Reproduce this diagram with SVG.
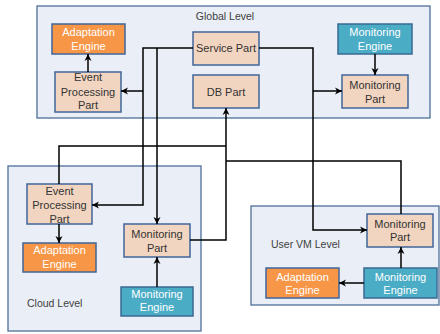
<svg xmlns="http://www.w3.org/2000/svg" width="440" height="334" viewBox="0 0 440 334">
<defs>
<marker id="arr" markerUnits="userSpaceOnUse" markerWidth="8" markerHeight="8" refX="7" refY="4" orient="auto">
<path d="M0,0.5 L7,4 L0,7.5 L2,4 z" fill="#000"/>
</marker>
<style>
.lvl{fill:#EAEFF7;stroke:#4F6F99;stroke-width:1.3}
.part{fill:#F2D5C0;stroke:#40659A;stroke-width:1.5}
.ae{fill:#F79646;stroke:#40659A;stroke-width:1.5}
.me{fill:#4BACC6;stroke:#3A6A92;stroke-width:1.5}
text{font-family:"Liberation Sans",Arial,sans-serif;font-size:11px;text-anchor:middle}
.dk{fill:#333}
.wt{fill:#fff}
.lbl{fill:#404040;font-size:10.5px}
.ln{fill:none;stroke:#000;stroke-width:1.5}
.ar{marker-end:url(#arr)}
</style>
</defs>

<g id="global-level">
<rect class="lvl" x="37" y="6" width="393" height="112"/>
<text class="lbl" x="225" y="20">Global Level</text>
</g>
<g id="cloud-level">
<rect class="lvl" x="8" y="166" width="193" height="165"/>
<text class="lbl" x="27" y="307" style="text-anchor:start">Cloud Level</text>
</g>
<g id="uservm-level">
<rect class="lvl" x="251" y="206" width="188" height="99"/>
<text class="lbl" x="271" y="248" style="text-anchor:start">User VM Level</text>
</g>

<g id="g-adaptation">
<rect class="ae" x="52" y="24" width="73" height="30"/>
<text class="wt" x="88.5" y="36">Adaptation</text>
<text class="wt" x="88.5" y="50">Engine</text>
</g>
<g id="g-event">
<rect class="part" x="55" y="72" width="66" height="40"/>
<text class="dk" x="88" y="81">Event</text>
<text class="dk" x="88" y="96">Processing</text>
<text class="dk" x="88" y="109">Part</text>
</g>
<g id="g-service">
<rect class="part" x="193" y="32" width="66" height="33"/>
<text class="dk" x="226" y="52">Service Part</text>
</g>
<g id="g-db">
<rect class="part" x="193" y="75" width="66" height="33"/>
<text class="dk" x="226" y="96">DB Part</text>
</g>
<g id="g-monengine">
<rect class="me" x="338" y="24" width="74" height="30"/>
<text class="wt" x="375" y="36">Monitoring</text>
<text class="wt" x="375" y="50">Engine</text>
</g>
<g id="g-monpart">
<rect class="part" x="342" y="75" width="66" height="33"/>
<text class="dk" x="375" y="89">Monitoring</text>
<text class="dk" x="375" y="103">Part</text>
</g>

<g id="c-event">
<rect class="part" x="27" y="184" width="65" height="40"/>
<text class="dk" x="59.5" y="195">Event</text>
<text class="dk" x="59.5" y="209">Processing</text>
<text class="dk" x="59.5" y="223">Part</text>
</g>
<g id="c-adaptation">
<rect class="ae" x="23" y="243" width="73" height="29"/>
<text class="wt" x="59.5" y="254">Adaptation</text>
<text class="wt" x="59.5" y="268">Engine</text>
</g>
<g id="c-monpart">
<rect class="part" x="124" y="224" width="66" height="33"/>
<text class="dk" x="157" y="238">Monitoring</text>
<text class="dk" x="157" y="252">Part</text>
</g>
<g id="c-monengine">
<rect class="me" x="121" y="287" width="72" height="29"/>
<text class="wt" x="157" y="298">Monitoring</text>
<text class="wt" x="157" y="311">Engine</text>
</g>

<g id="u-monpart">
<rect class="part" x="367" y="214" width="66" height="33"/>
<text class="dk" x="400" y="228">Monitoring</text>
<text class="dk" x="400" y="241">Part</text>
</g>
<g id="u-adaptation">
<rect class="ae" x="266" y="268" width="73" height="30"/>
<text class="wt" x="302.5" y="281">Adaptation</text>
<text class="wt" x="302.5" y="294">Engine</text>
</g>
<g id="u-monengine">
<rect class="me" x="364" y="268" width="73" height="30"/>
<text class="wt" x="400.5" y="281">Monitoring</text>
<text class="wt" x="400.5" y="294">Engine</text>
</g>

<g id="connectors">
<path class="ln ar" d="M88,72 V54"/>
<path class="ln ar" d="M375,54 V75"/>
<path class="ln ar" d="M193,48 H143 V205 H92"/>
<path class="ln ar" d="M143,91 H121"/>
<path class="ln ar" d="M157,48 V224"/>
<path class="ln ar" d="M259,48 H313 V230 H367"/>
<path class="ln ar" d="M313,91 H342"/>
<path class="ln ar" d="M190,240 H226 V108"/>
<path class="ln" d="M59,184 V146 H226"/>
<path class="ln" d="M401,214 V161 H226"/>
<path class="ln ar" d="M59,224 V243"/>
<path class="ln ar" d="M157,287 V257"/>
<path class="ln ar" d="M401,268 V247"/>
<path class="ln ar" d="M364,283 H339"/>
</g>
</svg>
